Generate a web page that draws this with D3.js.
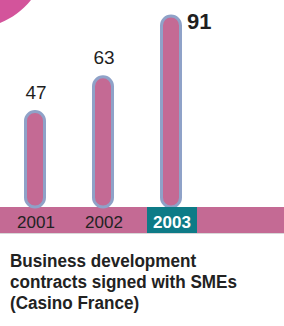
<!DOCTYPE html>
<html>
<head>
<meta charset="utf-8">
<script src="https://cdn.jsdelivr.net/npm/d3@7"></script>
<style>
  body { margin: 0; background: #fff; }
  svg { display: block; }
</style>
</head>
<body>
<div id="chart"></div>
<script>
const years = ["2001", "2002", "2003"];
const contracts = [47, 63, 91];
const highlightYear = "2003";
const titleLines = ["Business development", "contracts signed with SMEs", "(Casino France)"];

const width = 284, height = 326;
const bandTop = 207, bandBottom = 233;

const svg = d3.select("#chart").append("svg")
    .attr("width", width)
    .attr("height", height);

// pink blob in the corner
svg.append("path")
    .attr("d", "M0,0 L31,0 C22,11 12,18 0,23 Z")
    .attr("fill", "#d3549b");

const x = d3.scaleBand()
    .domain(years)
    .range([1, 205]);

const y = d3.scaleLinear()
    .domain([0, 100])
    .range([212, -5]);

const barW = 22;

// bottom band
svg.append("rect")
    .attr("x", 0).attr("y", bandTop)
    .attr("width", width).attr("height", bandBottom - bandTop)
    .attr("fill", "#c46a94");
svg.append("line")
    .attr("x1", 0).attr("x2", width)
    .attr("y1", bandBottom + 0.5).attr("y2", bandBottom + 0.5)
    .attr("stroke", "#d8d8d8");

// bars (rounded capsules)
svg.selectAll(".bar")
    .data(contracts)
    .join("rect")
    .attr("class", "bar")
    .attr("x", (d, i) => x(years[i]) + x.bandwidth() / 2 - barW / 2 + 1.5)
    .attr("y", d => y(d) + 1.5)
    .attr("width", barW - 3)
    .attr("height", d => bandTop - y(d) - 1.5)
    .attr("rx", (barW - 3) / 2)
    .attr("fill", "#c46a94")
    .attr("stroke", "#8fa2c8")
    .attr("stroke-width", 3);

// value labels
svg.selectAll(".val")
    .data(contracts)
    .join("text")
    .attr("class", "val")
    .attr("x", (d, i) => years[i] === highlightYear
        ? x(years[i]) + x.bandwidth() / 2 + barW / 2 + 5
        : x(years[i]) + x.bandwidth() / 2 + 1)
    .attr("y", (d, i) => years[i] === highlightYear ? y(d) + 14 : y(d) - 11)
    .attr("text-anchor", (d, i) => years[i] === highlightYear ? "start" : "middle")
    .style("font-family", "'Liberation Sans', Arial, sans-serif")
    .style("font-size", (d, i) => years[i] === highlightYear ? "22px" : "19px")
    .style("font-weight", (d, i) => years[i] === highlightYear ? "bold" : "normal")
    .attr("fill", "#1f1f1f")
    .text(d => d);

// highlight box for the last year
svg.append("rect")
    .attr("x", x(highlightYear) + x.bandwidth() / 2 - 24)
    .attr("y", bandTop)
    .attr("width", 50)
    .attr("height", bandBottom - bandTop)
    .attr("fill", "#0e7b87");

// year labels
svg.selectAll(".year")
    .data(years)
    .join("text")
    .attr("class", "year")
    .attr("x", d => x(d) + x.bandwidth() / 2 + 1)
    .attr("y", bandTop + 21)
    .attr("text-anchor", "middle")
    .style("font-family", "'Liberation Sans', Arial, sans-serif")
    .style("font-size", "17px")
    .style("font-weight", d => d === highlightYear ? "bold" : "normal")
    .attr("fill", d => d === highlightYear ? "#fff" : "#222")
    .text(d => d);

// title (condensed look via horizontal scale)
const title = svg.append("g")
    .attr("transform", "translate(10,0) scale(0.9,1)");
title.selectAll(".title")
    .data(titleLines)
    .join("text")
    .attr("class", "title")
    .attr("x", 0)
    .attr("y", (d, i) => 267 + i * 21)
    .style("font-family", "'Liberation Sans', Arial, sans-serif")
    .style("font-size", "19px")
    .style("font-weight", "bold")
    .attr("fill", "#222")
    .text(d => d);
</script>
</body>
</html>
